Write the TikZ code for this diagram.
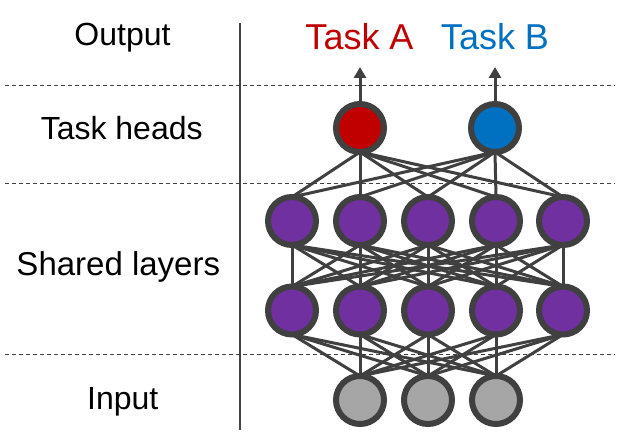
\documentclass[tikz,border=0pt]{standalone}
\usepackage{fontspec}
\setmainfont{Liberation Sans}
\usetikzlibrary{arrows.meta,backgrounds}
\definecolor{edgegray}{HTML}{404040}
\definecolor{taskred}{HTML}{C00000}
\definecolor{taskblue}{HTML}{0070C0}
\definecolor{sharedpurple}{HTML}{7030A0}
\definecolor{inputgray}{HTML}{A6A6A6}
\begin{document}
\begin{tikzpicture}[x=1pt,y=-1pt,
  neuron/.style={circle,draw=edgegray,line width=6pt,minimum size=48pt,inner sep=0pt,outer sep=0pt},
  conn/.style={draw=edgegray,line width=3pt},
  outarrow/.style={draw=edgegray,line width=3pt,-{Triangle[width=12pt,length=11pt]}},
  sep/.style={draw=edgegray,line width=1pt,dash pattern=on 4pt off 3pt},
  vline/.style={draw=edgegray,line width=1.2pt},
  rowlabel/.style={anchor=base,font=\fontsize{32}{38}\selectfont,text=black,inner sep=0pt},
  tasklabel/.style={anchor=base,font=\fontsize{36}{42}\selectfont,inner sep=0pt}]
\useasboundingbox (0,0) rectangle (620,438);
% separators
\coordinate (s1l) at (5,85.5); \coordinate (s1r) at (615,85.5);
\coordinate (s2l) at (5,183.5); \coordinate (s2r) at (615,183.5);
\coordinate (s3l) at (5,354.5); \coordinate (s3r) at (615,354.5);
\coordinate (vt) at (240,23); \coordinate (vb) at (240,430);
\draw[sep] (s1l) -- (s1r);
\draw[sep] (s2l) -- (s2r);
\draw[sep] (s3l) -- (s3r);
\draw[vline] (vt) -- (vb);
% labels
\node[rowlabel] (lout) at (122.5,46) {Output};
\node[rowlabel] (lheads) at (121.7,139.3) {Task heads};
\node[rowlabel,font=\fontsize{33}{38}\selectfont] (lshared) at (118.3,275) {Shared layers};
\node[rowlabel] (lin) at (122.7,409) {Input};
\node[tasklabel,text=taskred] (ta) at (359.5,50) {Task A};
\node[tasklabel,text=taskblue] (tb) at (495,50) {Task B};
% nodes
\node[neuron,fill=taskred] (h1) at (360,128) {};
\node[neuron,fill=taskblue] (h2) at (495,128) {};
\foreach \i/\x in {1/292,2/360,3/428,4/496,5/563}{
  \node[neuron,fill=sharedpurple] (a\i) at (\x,221) {};
  \node[neuron,fill=sharedpurple] (b\i) at (\x,310.5) {};
}
\foreach \i/\x in {1/360,2/428,3/496}{
  \node[neuron,fill=inputgray] (c\i) at (\x,400) {};
}
% output arrows
\coordinate (ea) at (360,67);
\coordinate (eb) at (495,67);
\draw[outarrow] (h1.north) -- (ea);
\draw[outarrow] (h2.north) -- (eb);
% connections behind the nodes
\begin{pgfonlayer}{background}
\foreach \h in {h1,h2}{
  \foreach \j in {1,...,5}{
    \draw[conn] (\h.south) -- (a\j.north);
  }
}
\foreach \i in {1,...,5}{
  \foreach \j in {1,...,5}{
    \draw[conn] (a\i.south) -- (b\j.north);
  }
}
\foreach \i in {1,...,5}{
  \foreach \j in {1,...,3}{
    \draw[conn] (b\i.south) -- (c\j.north);
  }
}
\end{pgfonlayer}
\end{tikzpicture}
\end{document}
